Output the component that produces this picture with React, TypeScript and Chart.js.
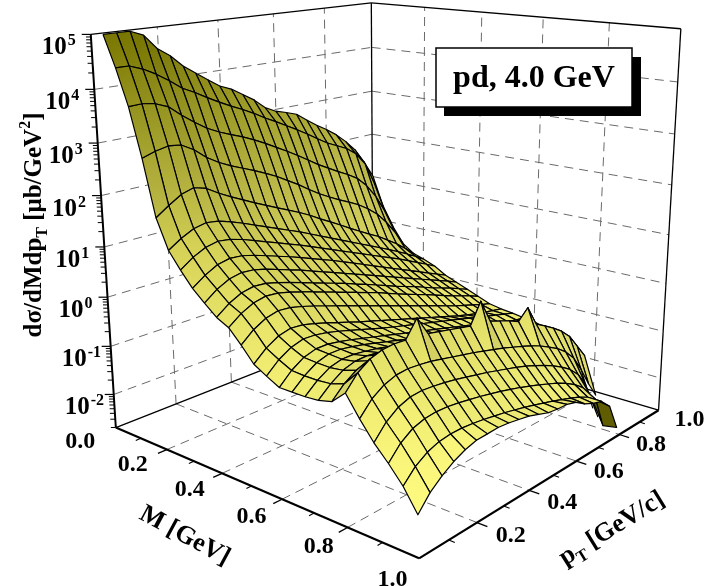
import React, { useEffect, useRef } from 'react';
import { Chart, registerables } from 'chart.js';

Chart.register(...registerables);

const WIDTH = 708;
const HEIGHT = 586;

// ---------------- data ----------------
const M_VALUES = [0.02, 0.06, 0.10, 0.14, 0.18, 0.22, 0.26, 0.30, 0.34, 0.38, 0.42, 0.46, 0.50, 0.54, 0.58, 0.62, 0.66, 0.70, 0.74, 0.78, 0.82, 0.86, 0.90, 0.94, 0.98];
const PT_VALUES = [0.02, 0.06, 0.10, 0.14, 0.18, 0.22, 0.26, 0.30, 0.34, 0.38, 0.42, 0.46, 0.50, 0.54, 0.58, 0.62, 0.66, 0.70, 0.74, 0.78, 0.82, 0.86, 0.90, 0.94, 0.98];

// log10( dσ/dMdpT [μb/GeV²] ), one row per M value, one column per pT value (null = no entry)
const LOG_SIGMA: (number | null)[][] = [
  [5.0, 5.0, 5.0, 4.9, 4.62, 4.45, 4.22, 4.05, 3.88, 3.72, 3.62, 3.47, 3.32, 3.12, 3.0, 2.93, 2.85, 2.68, 2.52, 2.38, 2.22, 2.02, 1.78, 1.45, 1.06],
  [4.42, 4.42, 4.33, 4.2, 4.04, 3.86, 3.74, 3.6, 3.47, 3.35, 3.24, 3.12, 2.98, 2.86, 2.73, 2.6, 2.46, 2.31, 2.17, 2.06, 1.95, 1.78, 1.5, 1.0, 0.4],
  [3.75, 3.76, 3.72, 3.62, 3.42, 3.24, 3.08, 2.96, 2.86, 2.77, 2.66, 2.54, 2.41, 2.28, 2.14, 1.99, 1.84, 1.71, 1.58, 1.46, 1.32, 1.1, 0.8, 0.4, -0.05],
  [2.84, 2.92, 2.97, 2.94, 2.8, 2.6, 2.45, 2.33, 2.23, 2.13, 2.02, 1.9, 1.76, 1.62, 1.46, 1.31, 1.18, 1.06, 0.95, 0.83, 0.68, 0.5, 0.25, -0.05, -0.4],
  [1.78, 1.95, 2.1, 2.17, 2.1, 1.95, 1.82, 1.7, 1.58, 1.47, 1.36, 1.25, 1.14, 1.02, 0.88, 0.75, 0.62, 0.48, 0.35, 0.22, 0.1, -0.05, -0.2, -0.38, -0.57],
  [1.22, 1.38, 1.5, 1.55, 1.52, 1.44, 1.35, 1.25, 1.15, 1.05, 0.95, 0.85, 0.74, 0.63, 0.52, 0.41, 0.3, 0.19, 0.08, -0.03, -0.14, -0.26, -0.38, -0.51, -0.65],
  [0.91, 1.08, 1.2, 1.25, 1.22, 1.15, 1.06, 0.97, 0.88, 0.79, 0.7, 0.6, 0.5, 0.4, 0.3, 0.2, 0.1, 0.0, -0.1, -0.2, -0.3, -0.41, -0.52, -0.63, -0.75],
  [0.63, 0.8, 0.93, 0.98, 0.96, 0.9, 0.82, 0.74, 0.66, 0.57, 0.48, 0.39, 0.3, 0.2, 0.1, 0.0, -0.1, -0.2, -0.3, -0.4, -0.5, -0.6, -0.7, -0.8, -0.9],
  [0.42, 0.6, 0.72, 0.77, 0.75, 0.69, 0.61, 0.53, 0.45, 0.36, 0.27, 0.18, 0.09, 0.0, -0.09, -0.18, -0.27, -0.36, -0.45, -0.54, -0.63, -0.72, -0.81, -0.9, -1.0],
  [0.22, 0.4, 0.52, 0.57, 0.55, 0.49, 0.42, 0.34, 0.26, 0.18, 0.1, 0.02, -0.07, -0.15, -0.24, -0.33, -0.42, -0.5, -0.58, -0.67, -0.76, -0.84, -0.92, -1.01, -1.1],
  [0.1, 0.28, 0.4, 0.45, 0.43, 0.37, 0.3, 0.22, 0.14, 0.06, -0.02, -0.1, -0.18, -0.26, -0.35, -0.44, -0.53, -0.61, -0.69, -0.78, -0.87, -0.95, -1.03, -1.11, -1.2],
  [-0.15, 0.05, 0.18, 0.24, 0.22, 0.16, 0.09, 0.01, -0.07, -0.15, -0.23, -0.31, -0.39, -0.47, -0.55, -0.63, -0.71, -0.79, -0.87, -0.95, -1.03, -1.1, -1.17, -1.24, -1.3],
  [-0.43, -0.22, -0.08, -0.02, -0.04, -0.1, -0.17, -0.25, -0.32, -0.4, -0.47, -0.54, -0.61, -0.68, -0.75, -0.82, -0.89, -0.96, -1.03, -1.1, -1.16, -1.22, -1.27, -1.31, -1.35],
  [-0.57, -0.36, -0.22, -0.15, -0.16, -0.2, -0.26, -0.33, -0.4, -0.47, -0.54, -0.6, -0.66, -0.72, -0.78, -0.84, -0.9, -0.96, -1.02, -1.08, -1.14, -1.2, -1.26, -1.32, -1.38],
  [-0.7, -0.48, -0.33, -0.26, -0.26, -0.3, -0.35, -0.41, -0.47, -0.53, -0.59, -0.65, -0.71, -0.77, -0.83, -0.89, -0.95, -1.01, -1.07, -1.13, -1.2, -1.28, -1.34, -1.38, -1.42],
  [-0.7, -0.5, -0.35, -0.28, -0.28, -0.32, -0.37, -0.43, -0.49, -0.55, -0.61, -0.67, -0.73, -0.79, -0.85, -0.91, -0.97, -1.03, -1.1, -1.17, -1.24, -1.31, -1.37, -1.42, -1.46],
  [-0.7, -0.5, -0.36, -0.3, -0.3, -0.33, -0.37, -0.42, -0.47, -0.52, -0.57, -0.62, -0.67, -0.72, -0.77, -0.82, -0.88, -0.94, -1.01, -1.09, -1.18, -1.27, -1.37, -1.45, -1.52],
  [-0.68, -0.48, -0.33, -0.26, -0.25, -0.28, -0.32, -0.37, -0.42, -0.47, -0.52, -0.57, -0.62, -0.67, -0.72, -0.78, -0.85, -0.92, -1.0, -1.09, -1.19, -1.3, -1.42, -1.52, -1.62],
  [-0.62, -0.4, -0.25, -0.17, -0.15, -0.17, -0.2, -0.25, -0.3, -0.35, -0.4, -0.45, -0.5, -0.55, -0.61, -0.67, -0.74, -0.82, -0.91, -1.01, -1.12, -1.25, -1.4, -1.58, -1.78],
  [-0.38, -0.12, 0.03, 0.1, 0.12, 0.1, 0.42, 0.05, 0.0, -0.05, -0.1, -0.15, 0.25, -0.22, -0.3, -0.38, -0.48, -0.28, -0.7, -0.82, -0.95, -1.1, -1.3, -1.6, -1.9],
  [-0.75, -0.5, -0.35, -0.27, -0.25, -0.27, -0.3, -0.35, -0.4, -0.45, -0.5, -0.56, -0.62, -0.68, -0.75, -0.82, -0.9, -0.99, -1.1, -1.22, -1.38, -1.6, -1.95, -2.35, -2.7],
  [-1.08, -0.82, -0.66, -0.58, -0.56, -0.58, -0.61, -0.65, -0.7, -0.75, -0.8, -0.86, -0.92, -0.98, -1.05, -1.13, -1.22, -1.32, -1.44, -1.58, -1.78, -2.1, -2.7, null, null],
  [-1.35, -1.1, -0.95, -0.88, -0.86, -0.87, -0.9, -0.94, -0.98, -1.03, -1.08, -1.14, -1.2, -1.27, -1.34, -1.42, -1.5, -1.6, -1.72, -1.88, -2.15, -2.7, null, null, null],
  [-1.65, -1.42, -1.28, -1.2, -1.17, -1.17, -1.19, -1.22, -1.26, -1.3, -1.35, -1.4, -1.46, -1.52, -1.58, -1.65, -1.72, -1.8, -1.9, -2.05, -2.7, null, null, null, null],
  [-2.05, -1.78, -1.6, -1.46, -1.36, -1.3, -1.29, -1.28, -1.3, -1.34, -1.38, -1.45, -1.52, -1.55, -1.56, -1.62, -1.75, -1.84, -1.9, -2.1, -2.65, null, null, null, null],
];

const Z_LOG_MIN = -2.7;
const Z_LOG_MAX = 5;
const Z_TICK_EXPONENTS = [-2, -1, 0, 1, 2, 3, 4, 5];
const M_TICK_LABELS = ['0.0', '0.2', '0.4', '0.6', '0.8', '1.0'];
const PT_TICK_LABELS = ['0.2', '0.4', '0.6', '0.8', '1.0'];
const AXIS_MINOR_STEPS = [0.1, 0.3, 0.5, 0.7, 0.9];
const GRID_FRACTIONS = [0.2, 0.4, 0.6, 0.8];
const TITLE_TEXT = 'pd, 4.0 GeV';

// ---------------- 3D frame (camera) calibration ----------------
const FRAME_WORLD: number[][] = [
  [0, 0, -2.7], [0, 0, 5], [1, 0, -2.7], [1, 1, -2.7], [1, 1, 5], [0, 1, 5],
  [0.2, 0, -2.7], [0.4, 0, -2.7], [0.6, 0, -2.7], [0.8, 0, -2.7],
  [1, 0.2, -2.7], [1, 0.4, -2.7], [1, 0.6, -2.7], [1, 0.8, -2.7],
  [0, 0, 4], [0, 0, 3], [0, 0, 2], [0, 0, 1], [0, 0, 0], [0, 0, -1], [0, 0, -2],
  [0, 0.2, 5], [0, 0.4, 5], [0, 0.6, 5], [0, 0.8, 5],
  [0.2, 1, 5], [0.4, 1, 5], [0.6, 1, 5], [0.8, 1, 5],
];
const FRAME_PIXELS: number[][] = [
  [115, 427], [92, 33], [419, 557], [658, 410], [682, 29], [372, 3],
  [167, 449], [223, 473], [282, 498], [347, 527],
  [477, 525], [528, 492], [578, 461], [620, 433],
  [95.3, 90], [98.4, 143], [101.6, 197], [104.5, 247], [107.5, 298], [110.3, 347], [113.1, 395],
  [155, 26.3], [217, 19.6], [273, 13.6], [325, 8],
  [425, 7.4], [482, 12.2], [542, 17.3], [608, 22.8],
];

const FONT = '"Liberation Serif", "Times New Roman", Times, serif';
const PIX_SCALE = 100;

const zNorm = (L: number) => (L - Z_LOG_MIN) / (Z_LOG_MAX - Z_LOG_MIN);

function solveCamera(): number[] {
  const N = 11;
  const A: number[][] = Array.from({ length: N }, () => new Array(N).fill(0));
  const b: number[] = new Array(N).fill(0);
  const add = (row: number[], rhs: number) => {
    for (let r = 0; r < N; r++) {
      b[r] += row[r] * rhs;
      for (let c = 0; c < N; c++) A[r][c] += row[r] * row[c];
    }
  };
  FRAME_WORLD.forEach((wp, k) => {
    const X = wp[0], Y = wp[1], Z = zNorm(wp[2]);
    const u = FRAME_PIXELS[k][0] / PIX_SCALE, v = FRAME_PIXELS[k][1] / PIX_SCALE;
    add([X, Y, Z, 1, 0, 0, 0, 0, -u * X, -u * Y, -u * Z], u);
    add([0, 0, 0, 0, X, Y, Z, 1, -v * X, -v * Y, -v * Z], v);
  });
  for (let c = 0; c < N; c++) {
    let piv = c;
    for (let r = c + 1; r < N; r++) if (Math.abs(A[r][c]) > Math.abs(A[piv][c])) piv = r;
    const tr = A[c]; A[c] = A[piv]; A[piv] = tr;
    const tb = b[c]; b[c] = b[piv]; b[piv] = tb;
    for (let r = c + 1; r < N; r++) {
      const f = A[r][c] / A[c][c];
      for (let k = c; k < N; k++) A[r][k] -= f * A[c][k];
      b[r] -= f * b[c];
    }
  }
  const p: number[] = new Array(N).fill(0);
  for (let r = N - 1; r >= 0; r--) {
    let s = b[r];
    for (let k = r + 1; k < N; k++) s -= A[r][k] * p[k];
    p[r] = s / A[r][r];
  }
  return p;
}

const CAM = solveCamera();

type P2 = { x: number; y: number; w: number };
function project(m: number, pt: number, L: number): P2 {
  const z = zNorm(L);
  const w = CAM[8] * m + CAM[9] * pt + CAM[10] * z + 1;
  return {
    x: ((CAM[0] * m + CAM[1] * pt + CAM[2] * z + CAM[3]) / w) * PIX_SCALE,
    y: ((CAM[4] * m + CAM[5] * pt + CAM[6] * z + CAM[7]) / w) * PIX_SCALE,
    w,
  };
}

// ---------------- colours ----------------
const LIGHT_RGB = [247, 244, 126];
const DARK_RGB = [122, 120, 0];
const UNDER_RGB = [116, 113, 0];
const LIGHT_DIR = (() => {
  const v = [0.4, -0.5, 0.75];
  const n = Math.hypot(v[0], v[1], v[2]);
  return v.map((c) => c / n);
})();

function rgb(c: number[], f: number): string {
  const k = c.map((x) => Math.max(0, Math.min(255, Math.round(x * f))));
  return `rgb(${k[0]},${k[1]},${k[2]})`;
}
function heightRGB(z: number): number[] {
  const t = Math.pow(Math.min(1, Math.max(0, z)), 1.6);
  return LIGHT_RGB.map((l, k) => l + (DARK_RGB[k] - l) * t);
}

const finite = (v: any) => typeof v === 'number' && Number.isFinite(v);

function quadFill(c: any) {
  const s = c && c.dataset ? c.dataset.shade : null;
  if (!s) return 'rgba(0,0,0,0)';
  if (s.flat) return s.flat;
  const chart = c.chart;
  const sx = chart && chart.scales ? chart.scales.x : null;
  const sy = chart && chart.scales ? chart.scales.y : null;
  let x0 = sx ? sx.getPixelForValue(s.p0.x) : NaN;
  let y0 = sy ? sy.getPixelForValue(s.p0.y) : NaN;
  let x1 = sx ? sx.getPixelForValue(s.p1.x) : NaN;
  let y1 = sy ? sy.getPixelForValue(s.p1.y) : NaN;
  if (![x0, y0, x1, y1].every(finite)) {
    x0 = s.p0.x; y0 = s.p0.y; x1 = s.p1.x; y1 = s.p1.y;
  }
  if (![x0, y0, x1, y1].every(finite) || Math.hypot(x1 - x0, y1 - y0) < 1 || !chart || !chart.ctx) return s.c1;
  const g = chart.ctx.createLinearGradient(x0, y0, x1, y1);
  g.addColorStop(0, s.c0);
  g.addColorStop(1, s.c1);
  return g;
}

// ---------------- datasets ----------------
function segment(a: P2, b: P2, color: string, width: number, dash: number[] = []) {
  return {
    data: [{ x: a.x, y: a.y }, { x: b.x, y: b.y }],
    borderColor: color,
    borderWidth: width,
    borderDash: dash,
    fill: false,
    pointRadius: 0,
    borderCapStyle: 'butt',
  };
}

function buildDatasets() {
  const behind: any[] = [];
  const front: any[] = [];
  const F = Z_LOG_MIN;
  const T = Z_LOG_MAX;
  const dashColor = '#6a6a6a';
  const dash = [9, 6];

  GRID_FRACTIONS.forEach((g) => {
    behind.push(segment(project(g, 0, F), project(g, 1, F), dashColor, 1, dash));
    behind.push(segment(project(0, g, F), project(1, g, F), dashColor, 1, dash));
    behind.push(segment(project(0, g, F), project(0, g, T), dashColor, 1, dash));
    behind.push(segment(project(g, 1, F), project(g, 1, T), dashColor, 1, dash));
  });
  Z_TICK_EXPONENTS.filter((k) => k < Z_LOG_MAX).forEach((k) => {
    behind.push(segment(project(0, 0, k), project(0, 1, k), dashColor, 1, dash));
    behind.push(segment(project(0, 1, k), project(1, 1, k), dashColor, 1, dash));
  });
  const edge = '#000';
  behind.push(segment(project(0, 0, F), project(0, 1, F), edge, 1.3));
  behind.push(segment(project(0, 1, F), project(1, 1, F), edge, 1.3));
  behind.push(segment(project(0, 1, F), project(0, 1, T), edge, 1.3));
  behind.push(segment(project(1, 1, F), project(1, 1, T), edge, 1.3));
  behind.push(segment(project(0, 0, T), project(0, 1, T), edge, 1.3));
  behind.push(segment(project(0, 1, T), project(1, 1, T), edge, 1.3));

  const quads: { depth: number; ds: any }[] = [];
  for (let i = 0; i < M_VALUES.length - 1; i++) {
    for (let j = 0; j < PT_VALUES.length - 1; j++) {
      const idx = [[i, j], [i + 1, j], [i + 1, j + 1], [i, j + 1]];
      const Ls = idx.map(([a, c]) => LOG_SIGMA[a][c]);
      if (Ls.some((v) => v === null || v === undefined)) continue;
      const world = idx.map(([a, c], k) => [M_VALUES[a], PT_VALUES[c], zNorm(Ls[k] as number)]);
      const pts = idx.map(([a, c], k) => project(M_VALUES[a], PT_VALUES[c], Ls[k] as number));
      let area = 0;
      for (let k = 0; k < 4; k++) {
        const p = pts[k], q = pts[(k + 1) % 4];
        area += p.x * q.y - q.x * p.y;
      }
      const back = area > 0;
      const d1 = [world[2][0] - world[0][0], world[2][1] - world[0][1], world[2][2] - world[0][2]];
      const d2 = [world[3][0] - world[1][0], world[3][1] - world[1][1], world[3][2] - world[1][2]];
      let n = [d1[1] * d2[2] - d1[2] * d2[1], d1[2] * d2[0] - d1[0] * d2[2], d1[0] * d2[1] - d1[1] * d2[0]];
      const nl = Math.hypot(n[0], n[1], n[2]) || 1;
      n = n.map((c) => c / nl);
      if (back) n = n.map((c) => -c);
      const dot = n[0] * LIGHT_DIR[0] + n[1] * LIGHT_DIR[1] + n[2] * LIGHT_DIR[2];
      const f = Math.max(0.72, Math.min(1.04, 0.8 + 0.26 * dot));
      let lo = 0, hi = 0;
      for (let k = 1; k < 4; k++) {
        if (world[k][2] < world[lo][2]) lo = k;
        if (world[k][2] > world[hi][2]) hi = k;
      }
      const shade = back
        ? { flat: rgb(UNDER_RGB, f) }
        : {
            p0: { x: pts[lo].x, y: pts[lo].y }, p1: { x: pts[hi].x, y: pts[hi].y },
            c0: rgb(heightRGB(world[lo][2]), f),
            c1: rgb(heightRGB(world[hi][2]), f),
          };
      const depth = (pts[0].w + pts[1].w + pts[2].w + pts[3].w) / 4;
      quads.push({
        depth,
        ds: {
          data: [...pts, pts[0]].map((p) => ({ x: p.x, y: p.y })),
          shade,
          fill: 'shape',
          borderColor: '#000',
          borderWidth: 1.2,
          borderJoinStyle: 'round',
          pointRadius: 0,
          pointBackgroundColor: 'rgba(0,0,0,0)',
          pointBorderColor: 'rgba(0,0,0,0)',
          backgroundColor: quadFill,
        },
      });
    }
  }
  quads.sort((a, b) => b.depth - a.depth);

  front.push(segment(project(0, 0, F), project(0, 0, T), edge, 2));
  front.push(segment(project(0, 0, F), project(1, 0, F), edge, 2.2));
  front.push(segment(project(1, 0, F), project(1, 1, F), edge, 2.2));
  Z_TICK_EXPONENTS.forEach((k) => {
    const p = project(0, 0, k);
    front.push(segment(p, { x: p.x - 9, y: p.y, w: p.w }, edge, 1.2));
  });
  for (let k = -3; k < 5; k++) {
    for (let m = 2; m <= 9; m++) {
      const L = k + Math.log10(m);
      if (L <= Z_LOG_MIN || L >= Z_LOG_MAX) continue;
      const p = project(0, 0, L);
      front.push(segment(p, { x: p.x - 5, y: p.y, w: p.w }, edge, 1));
    }
  }
  M_TICK_LABELS.map(parseFloat).filter((v) => v > 0 && v < 1).forEach((v) => {
    front.push(segment(project(v, 0, F), project(v, -0.028, F), edge, 1.3));
  });
  PT_TICK_LABELS.map(parseFloat).filter((v) => v > 0 && v < 1).forEach((v) => {
    front.push(segment(project(1, v, F), project(1.028, v, F), edge, 1.3));
  });
  AXIS_MINOR_STEPS.forEach((v) => {
    front.push(segment(project(v, 0, F), project(v, -0.016, F), edge, 1.1));
    front.push(segment(project(1, v, F), project(1.016, v, F), edge, 1.1));
  });

  const drawOrder = [...behind, ...quads.map((q) => q.ds), ...front];
  return drawOrder.reverse();
}

type Part = { text: string; font: string; dy?: number };
function drawRich(ctx: CanvasRenderingContext2D, parts: Part[], cx: number, cy: number, angle: number, base: number) {
  ctx.save();
  ctx.translate(cx, cy);
  ctx.rotate(angle);
  ctx.textAlign = 'left';
  ctx.textBaseline = 'alphabetic';
  let total = 0;
  const widths = parts.map((p) => {
    ctx.font = p.font;
    const w = ctx.measureText(p.text).width;
    total += w;
    return w;
  });
  let x = -total / 2;
  parts.forEach((p, k) => {
    ctx.font = p.font;
    ctx.fillText(p.text, x, base + (p.dy || 0));
    x += widths[k];
  });
  ctx.restore();
}

const frameLabels = {
  id: 'frameLabels',
  afterDraw(chart: any) {
    const ctx: CanvasRenderingContext2D = chart.ctx;
    const sx = chart.scales.x, sy = chart.scales.y;
    const px = (p: P2) => ({ x: sx.getPixelForValue(p.x), y: sy.getPixelForValue(p.y) });
    const F = Z_LOG_MIN;
    const area = chart.chartArea;
    ctx.save();
    ctx.fillStyle = '#000';

    Z_TICK_EXPONENTS.forEach((k) => {
      const p = px(project(0, 0, k));
      ctx.textAlign = 'left';
      ctx.textBaseline = 'alphabetic';
      ctx.font = `bold 25px ${FONT}`;
      const x0 = p.x - 49;
      ctx.fillText('10', x0, p.y + 20);
      const w = ctx.measureText('10').width;
      ctx.font = `bold 16px ${FONT}`;
      ctx.fillText(String(k), x0 + w + 1, p.y + 11);
    });

    ctx.font = `bold 24px ${FONT}`;
    ctx.textAlign = 'center';
    ctx.textBaseline = 'middle';
    M_TICK_LABELS.forEach((lab) => {
      const v = parseFloat(lab);
      const p = px(project(v, -0.11, F));
      ctx.fillText(lab, p.x + v * 8, p.y);
    });
    PT_TICK_LABELS.forEach((lab) => {
      const p = px(project(1.09, parseFloat(lab), F));
      ctx.fillText(lab, p.x, p.y);
    });

    {
      const a = px(project(0, 0, F)), c = px(project(1, 0, F));
      const len = Math.hypot(c.x - a.x, c.y - a.y);
      const d = { x: (c.x - a.x) / len, y: (c.y - a.y) / len };
      const perp = { x: -d.y, y: d.x };
      const b = px(project(0.37, 0, F));
      const ang = Math.atan2(d.y, d.x) + 0.09;
      drawRich(ctx, [{ text: 'M [GeV]', font: `bold 26px ${FONT}` }], b.x + perp.x * 70, b.y + perp.y * 70, ang, 9);
    }
    {
      const a = px(project(1, 0, F)), c = px(project(1, 1, F));
      const len = Math.hypot(c.x - a.x, c.y - a.y);
      const d = { x: (c.x - a.x) / len, y: (c.y - a.y) / len };
      const perp = { x: -d.y, y: d.x };
      const b = px(project(1, 0.58, F));
      const ang = Math.atan2(d.y, d.x);
      drawRich(
        ctx,
        [
          { text: 'p', font: `bold 26px ${FONT}` },
          { text: 'T', font: `bold 17px ${FONT}`, dy: 6 },
          { text: ' [GeV/c]', font: `bold 26px ${FONT}` },
        ],
        b.x + perp.x * 74, b.y + perp.y * 74, ang, 9
      );
    }
    drawRich(
      ctx,
      [
        { text: 'dσ/dMdp', font: `bold 25px ${FONT}` },
        { text: 'T', font: `bold 16px ${FONT}`, dy: 6 },
        { text: ' [μb/GeV', font: `bold 25px ${FONT}` },
        { text: '2', font: `bold 16px ${FONT}`, dy: -11 },
        { text: ']', font: `bold 25px ${FONT}` },
      ],
      area.left + 33, area.top + 225, -Math.PI / 2, 8
    );

    const bx = area.left + 436, by = area.top + 48, bw = 196, bh = 59;
    ctx.fillStyle = '#000';
    ctx.fillRect(bx + 8, by + 9, bw + 1, bh);
    ctx.fillStyle = '#fff';
    ctx.fillRect(bx, by, bw, bh);
    ctx.lineWidth = 1.5;
    ctx.strokeStyle = '#000';
    ctx.strokeRect(bx, by, bw, bh);
    ctx.fillStyle = '#000';
    ctx.font = `bold 32px ${FONT}`;
    ctx.textAlign = 'center';
    ctx.textBaseline = 'alphabetic';
    ctx.fillText(TITLE_TEXT, bx + bw / 2, by + 39);
    ctx.restore();
  },
};

export default function App() {
  const ref = useRef<HTMLCanvasElement>(null);
  useEffect(() => {
    document.body.style.margin = '0';
    const canvas = ref.current;
    if (!canvas) return;
    const chart = new Chart(canvas, {
      type: 'line',
      data: { datasets: buildDatasets() as any },
      options: {
        animation: false,
        responsive: false,
        events: [],
        layout: { padding: 0 },
        scales: {
          x: { type: 'linear', min: 0, max: WIDTH, display: false },
          y: { type: 'linear', min: 0, max: HEIGHT, reverse: true, display: false },
        },
        plugins: { legend: { display: false }, tooltip: { enabled: false } },
        elements: { point: { radius: 0, hoverRadius: 0, hitRadius: 0 }, line: { tension: 0 } },
      } as any,
      plugins: [frameLabels as any],
    });
    return () => chart.destroy();
  }, []);
  return (
    <div style={{ position: 'absolute', left: 0, top: 0, width: WIDTH, height: HEIGHT, background: '#fff' }}>
      <canvas ref={ref} width={WIDTH} height={HEIGHT} style={{ width: WIDTH, height: HEIGHT, display: 'block' }} />
    </div>
  );
}
